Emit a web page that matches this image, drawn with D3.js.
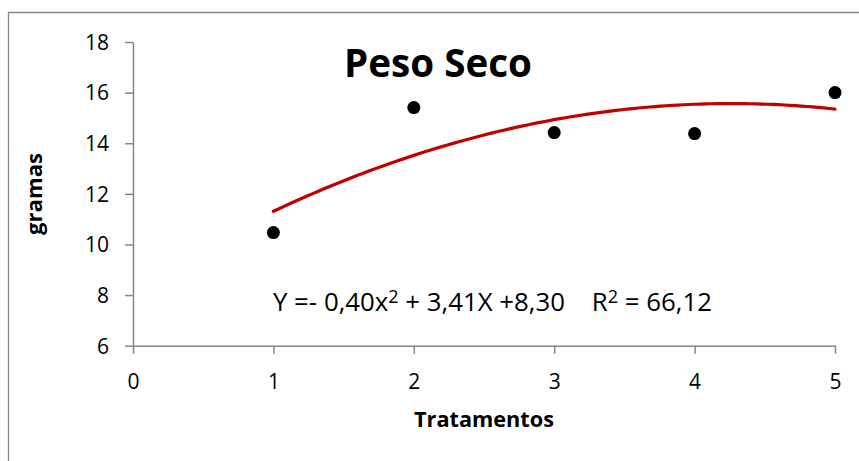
<!DOCTYPE html>
<html>
<head>
<meta charset="utf-8">
<script src="https://cdn.jsdelivr.net/npm/d3@7"></script>
<style>
  html, body { margin: 0; padding: 0; background: #fff; }
  svg { display: block; font-family: "Open Sans", "Noto Sans", sans-serif; }
</style>
</head>
<body>
<svg id="chart" width="859" height="461"></svg>
<script>
// Tratamentos and dry weight (gramas)
const treatments = [1, 2, 3, 4, 5];
const pesoSeco = [10.47, 15.41, 14.42, 14.38, 16.0];
// Quadratic fit: Y = a x² + b x + c
const fitCoefs = [-0.40, 3.41, 8.30];
const xTicks = [0, 1, 2, 3, 4, 5];
const yTicks = [6, 8, 10, 12, 14, 16, 18];
const title = "Peso Seco";
const xTitle = "Tratamentos";
const yTitle = "gramas";

const svg = d3.select("#chart");
const axisColor = "#868686";

// chart frame (open to the right and bottom)
svg.append("path")
  .attr("d", "M8.5,461 L8.5,12.5 L859,12.5")
  .attr("fill", "none").attr("stroke", axisColor).attr("stroke-width", 1.3);

const x = d3.scaleLinear().domain([0, 5]).range([133, 835]);
const y = d3.scaleLinear().domain([6, 18]).range([345.7, 42]);

const xAxis = svg.append("g")
  .attr("transform", `translate(0,${y(6)})`)
  .call(d3.axisBottom(x).tickValues(xTicks).tickFormat(d3.format("d")).tickSizeInner(8).tickSizeOuter(0).tickPadding(20));
const yAxis = svg.append("g")
  .attr("transform", `translate(${x(0)},0)`)
  .call(d3.axisLeft(y).tickValues(yTicks).tickFormat(d3.format("d")).tickSizeInner(8).tickSizeOuter(0).tickPadding(16));

[xAxis, yAxis].forEach(g => {
  g.attr("font-size", 21).attr("font-family", "Open Sans, sans-serif");
  g.select(".domain").attr("stroke", axisColor).attr("stroke-width", 1.5);
  g.selectAll(".tick line").attr("stroke", axisColor).attr("stroke-width", 1.5);
  g.selectAll(".tick text").attr("fill", "#000");
});
xAxis.selectAll(".tick text").attr("dy", "0.71em");
yAxis.selectAll(".tick text").attr("dy", "0.35em");

// fitted curve from the stated coefficients
const poly = t => fitCoefs[0] * t * t + fitCoefs[1] * t + fitCoefs[2];
const curvePts = d3.range(0, 101).map(i => {
  const t = treatments[0] + (treatments[treatments.length - 1] - treatments[0]) * i / 100;
  return [t, poly(t)];
});
svg.append("path")
  .datum(curvePts)
  .attr("d", d3.line().x(d => x(d[0])).y(d => y(d[1])))
  .attr("fill", "none").attr("stroke", "#C00000").attr("stroke-width", 3.2)
  .attr("stroke-linecap", "round");

// observed points
svg.append("g").selectAll("circle")
  .data(treatments.map((t, i) => [t, pesoSeco[i]]))
  .join("circle")
  .attr("cx", d => x(d[0])).attr("cy", d => y(d[1]))
  .attr("r", 6.5).attr("fill", "#000");

// fit a text element to a target width by adjusting its font size
function fitWidth(sel, target) {
  const w = sel.node().getComputedTextLength();
  const fs = parseFloat(sel.style("font-size"));
  sel.style("font-size", (fs * target / w) + "px");
}

const t = svg.append("text")
  .attr("x", 438).attr("y", 77).attr("text-anchor", "middle")
  .style("font-size", "36px").style("font-weight", "bold").text(title);
fitWidth(t, 188);

const xt = svg.append("text")
  .attr("x", 484).attr("y", 427).attr("text-anchor", "middle")
  .style("font-size", "18px").style("font-weight", "bold").text(xTitle);
fitWidth(xt, 140);

const yt = svg.append("text")
  .attr("transform", "translate(42,194) rotate(-90)").attr("text-anchor", "middle")
  .style("font-size", "17px").style("font-weight", "bold").text(yTitle);
fitWidth(yt, 82);

// equation label
const fmt = v => Math.abs(v).toFixed(2).replace(".", ",");
const eq = svg.append("text")
  .attr("x", 273).attr("y", 311).style("font-size", "20px");
eq.append("tspan").text(`Y =- ${fmt(fitCoefs[0])}x`);
eq.append("tspan").attr("dy", -8).style("font-size", "14px").text("2");
eq.append("tspan").attr("dy", 8).text(` + ${fmt(fitCoefs[1])}X +${fmt(fitCoefs[2])}\u00a0\u00a0\u00a0\u00a0R`);
eq.append("tspan").attr("dy", -8).style("font-size", "14px").text("2");
eq.append("tspan").attr("dy", 8).text("\u00a0= 66,12");
{
  const w = eq.node().getComputedTextLength();
  const s = 439 / w;
  eq.style("font-size", (20 * s) + "px");
  eq.selectAll("tspan").each(function () {
    const ts = d3.select(this);
    if (ts.text() === "2") ts.style("font-size", (14 * s) + "px");
  });
}
</script>
</body>
</html>
